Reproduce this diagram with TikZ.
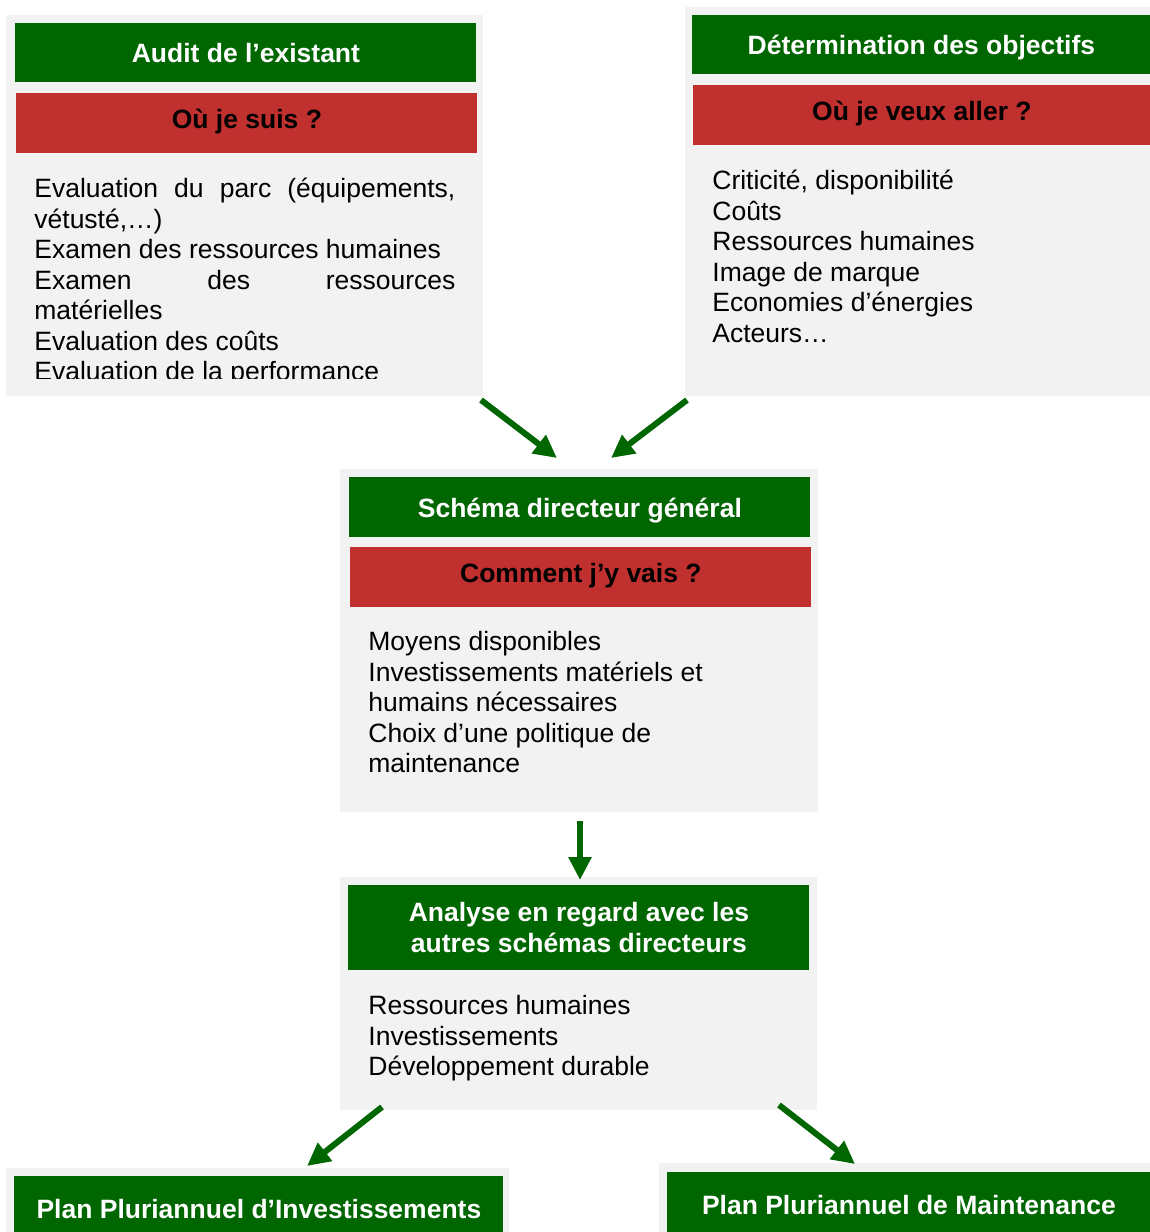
\documentclass[tikz,border=0pt]{standalone}
\usepackage{fontspec}
\setmainfont{Liberation Sans}
\usepackage{tikz}
\usetikzlibrary{arrows.meta}
\definecolor{headgreen}{HTML}{006600}
\definecolor{askred}{HTML}{C0302F}
\definecolor{panel}{HTML}{F2F2F2}
\tikzset{
  panel/.style={fill=panel,draw=none,inner sep=0pt,anchor=north west},
  headtwo/.style={fill=headgreen,text=white,inner sep=0pt,anchor=north west,align=center,
    font=\bfseries\fontsize{13.25}{15.5}\selectfont},
  head/.style={headtwo,text height=10pt,text depth=0pt},
  ask/.style={fill=askred,text=black,inner sep=0pt,anchor=north west,
    text height=7pt,text depth=2pt,font=\bfseries\fontsize{13.25}{15.5}\selectfont},
  body/.style={inner sep=0pt,anchor=north west,align=left,
    font=\fontsize{13.25}{15.25}\selectfont},
  arr/.style={-{Triangle[length=11.5pt,width=11pt]},line width=3pt,color=headgreen}
}
\begin{document}
\begin{tikzpicture}[x=0.5pt,y=-0.5pt]
  \useasboundingbox (0,0) rectangle (1150,1232);

  % audit (top left)
  \node[panel,minimum width=238.5pt,minimum height=190.5pt] (auditbg) at (6,15) {};
  \node[head,minimum width=230.5pt,minimum height=29.5pt] (audit) at (15,23) {Audit de l’existant};
  \node[ask,minimum width=230.5pt,minimum height=30pt] (auditq) at (16,93) {Où je suis ?};
  \begin{scope}
    \clip (6,153) rectangle (483,378);
    \node[inner sep=0pt,anchor=north west,text width=210.5pt,align=justify,
      font=\fontsize{13.25}{15.25}\selectfont] (auditbody) at (34,178)
      {\parindent=0pt\hyphenpenalty=10000\tolerance=9999
       Evaluation du parc (équipements,\linebreak vétusté,…)\par
       Examen des ressources humaines\par
       Examen des ressources\linebreak matérielles\par
       Evaluation des coûts\par
       Evaluation de la performance};
  \end{scope}

  % objectifs (top right)
  \node[panel,minimum width=232.5pt,minimum height=194.5pt] (objbg) at (685,7) {};
  \node[head,minimum width=229pt,minimum height=29.5pt] (obj) at (692,15) {Détermination des objectifs};
  \node[ask,minimum width=228.5pt,minimum height=30pt] (objq) at (693,85) {Où je veux aller ?};
  \node[body] (objbody) at (712,170)
    {Criticité, disponibilité\\Coûts\\Ressources humaines\\Image de marque\\Economies d’énergies\\Acteurs…};

  % schema directeur
  \node[panel,minimum width=239pt,minimum height=171.5pt] (schemabg) at (340,469) {};
  \node[head,minimum width=230.5pt,minimum height=30pt] (schema) at (349,477) {Schéma directeur général};
  \node[ask,minimum width=230.5pt,minimum height=30pt] (schemaq) at (350,547) {Comment j’y vais ?};
  \node[body] (schemabody) at (368,631)
    {Moyens disponibles\\Investissements matériels et\\humains nécessaires\\Choix d’une politique de\\maintenance};

  % analyse
  \node[panel,minimum width=238.5pt,minimum height=116.5pt] (analysebg) at (340,877) {};
  \node[headtwo,minimum width=230.5pt,minimum height=42.5pt] (analyse) at (348,885)
    {Analyse en regard avec les\\autres schémas directeurs};
  \node[body] (analysebody) at (368,995)
    {Ressources humaines\\Investissements\\Développement durable};

  % plans
  \node[panel,minimum width=251.5pt,minimum height=36pt] (ppibg) at (6,1168) {};
  \node[head,minimum width=244.5pt,minimum height=32pt] (ppi) at (14,1176) {Plan Pluriannuel d’Investissements};
  \node[panel,minimum width=245.5pt,minimum height=38.5pt] (ppmbg) at (659,1163) {};
  \node[head,minimum width=241.5pt,minimum height=32pt] (ppm) at (667,1172) {Plan Pluriannuel de Maintenance};

  % arrow ends
  \coordinate (auditout) at (481,400);
  \coordinate (objout) at (687,400);
  \coordinate (schemain1) at (557,458);
  \coordinate (schemain2) at (611,458);
  \coordinate (schemaout) at (580,821);
  \coordinate (analysein) at (580,880);
  \coordinate (analyseout1) at (382,1107);
  \coordinate (analyseout2) at (779,1105);
  \coordinate (ppiin) at (307,1166);
  \coordinate (ppmin) at (855,1164);

  \draw[arr] (auditout) -- (schemain1);
  \draw[arr] (objout) -- (schemain2);
  \draw[arr] (schemaout) -- (analysein);
  \draw[arr] (analyseout1) -- (ppiin);
  \draw[arr] (analyseout2) -- (ppmin);
\end{tikzpicture}
\end{document}
